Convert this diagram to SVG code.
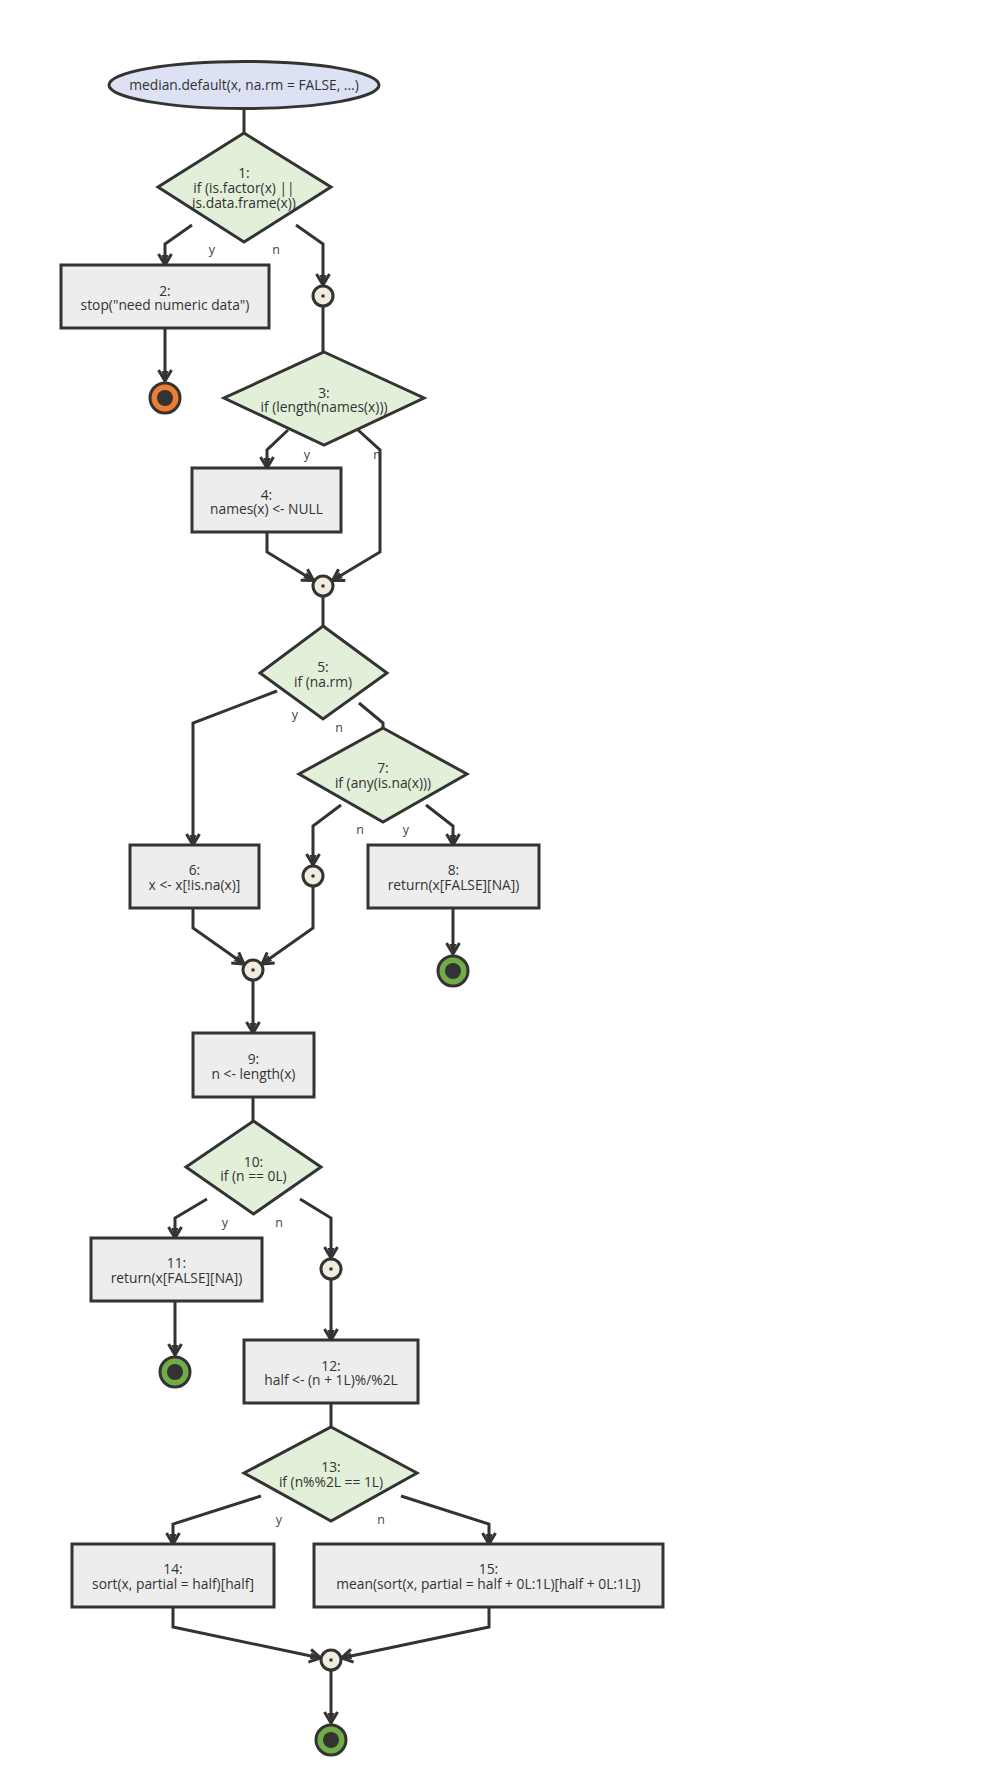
<svg xmlns="http://www.w3.org/2000/svg" width="1000" height="1788" viewBox="0 0 1000 1788">
<style>
text{font-family:"Open Sans","Noto Sans","DejaVu Sans",sans-serif;font-size:13.8px;fill:#333;text-anchor:middle}
.lbl{font-size:12.5px;fill:#444}
.box{fill:#ededed;stroke:#333;stroke-width:3}
.dia{fill:#e2efd9;stroke:#333;stroke-width:3;stroke-linejoin:miter}
.start{fill:#dce2f3;stroke:#333;stroke-width:3}
.jn{fill:#f1ecdd;stroke:#333;stroke-width:3}
.dot{fill:#333}
.endo{fill:#ed7d31;stroke:#333;stroke-width:3}
.endg{fill:#70ad47;stroke:#333;stroke-width:3}
.edge{fill:none;stroke:#333;stroke-width:3;stroke-linejoin:miter}
.arr{marker-end:url(#ah)}
</style>
<defs>
<marker id="ah" markerUnits="userSpaceOnUse" viewBox="-14 -9 16 18" refX="0" refY="0" markerWidth="16" markerHeight="18" orient="auto">
<path d="M-11,-6.5 L0,0 L-11,6.5" fill="none" stroke="#333" stroke-width="3"/>
<path d="M-10,-3.5 L0,0 L-10,3.5 Z" fill="#333"/>
</marker>
</defs>
<rect width="1000" height="1788" fill="#ffffff"/>
<g id="edge-labels">
<text class="lbl" x="212" y="254">y</text>
<text class="lbl" x="276" y="254">n</text>
<text class="lbl" x="307" y="459">y</text>
<text class="lbl" x="377" y="459">n</text>
<text class="lbl" x="295" y="719">y</text>
<text class="lbl" x="339" y="732">n</text>
<text class="lbl" x="360" y="834">n</text>
<text class="lbl" x="406" y="834">y</text>
<text class="lbl" x="225" y="1227">y</text>
<text class="lbl" x="279" y="1227">n</text>
<text class="lbl" x="279" y="1524">y</text>
<text class="lbl" x="381" y="1524">n</text>
</g>
<g id="connectors">
<path class="edge" d="M244,108 L244,133"/>
<path class="edge arr" d="M192,225 L165,244 L165,265"/>
<path class="edge arr" d="M296,225 L323,244 L323,285"/>
<path class="edge" d="M323,307 L323,352"/>
<path class="edge arr" d="M165,328 L165,381"/>
<path class="edge arr" d="M288,430 L267,450 L267,468"/>
<path class="edge arr" d="M358,430 L380,450 L380,552 L332.5,580.5"/>
<path class="edge arr" d="M267,532 L267,552 L313.5,580.5"/>
<path class="edge" d="M323,597 L323,626"/>
<path class="edge arr" d="M277,691 L193,723 L193,845"/>
<path class="edge" d="M359,703 L383,723 L383,728"/>
<path class="edge arr" d="M341,805 L313,826 L313,865"/>
<path class="edge arr" d="M426,805 L453,826 L453,845"/>
<path class="edge arr" d="M193,908 L193,928 L244,964"/>
<path class="edge arr" d="M313,887 L313,928 L262,964"/>
<path class="edge arr" d="M453,908 L453,954"/>
<path class="edge arr" d="M253,981 L253,1033"/>
<path class="edge" d="M253,1097 L253,1121"/>
<path class="edge arr" d="M207,1199 L175,1218 L175,1238"/>
<path class="edge arr" d="M300,1199 L331,1218 L331,1258"/>
<path class="edge arr" d="M175,1301 L175,1355"/>
<path class="edge arr" d="M331,1280 L331,1340"/>
<path class="edge" d="M331,1403 L331,1427"/>
<path class="edge arr" d="M261,1496 L173,1524 L173,1544"/>
<path class="edge arr" d="M401,1496 L489,1524 L489,1544"/>
<path class="edge arr" d="M173,1607 L173,1627 L320.5,1658"/>
<path class="edge arr" d="M489,1607 L489,1627 L341.5,1658"/>
<path class="edge arr" d="M331,1671 L331,1723"/>
</g>
<g id="n-start">
<ellipse class="start" cx="244" cy="85" rx="135" ry="23.5"/>
<text x="244" y="90">median.default(x, na.rm = FALSE, ...)</text>
</g>
<g id="n1">
<polygon class="dia" points="244,133 331,187 244,242 158,187"/>
<text x="244" y="178">1:</text>
<text x="244" y="193">if (is.factor(x) ||</text>
<text x="244" y="208">is.data.frame(x))</text>
</g>
<g id="n2">
<rect class="box" x="61" y="265" width="208" height="63"/>
<text x="165" y="296">2:</text>
<text x="165" y="310">stop("need numeric data")</text>
</g>
<g id="end2">
<circle class="endo" cx="165" cy="398" r="15"/>
<circle class="dot" cx="165" cy="398" r="8"/>
</g>
<g id="j1">
<circle class="jn" cx="323" cy="296" r="10"/>
<circle class="dot" cx="323" cy="296" r="1.8"/>
</g>
<g id="n3">
<polygon class="dia" points="324,352 424,398 324,445 224,398"/>
<text x="324" y="398">3:</text>
<text x="324" y="412">if (length(names(x)))</text>
</g>
<g id="n4">
<rect class="box" x="192" y="468" width="149" height="64"/>
<text x="266.5" y="500">4:</text>
<text x="266.5" y="514">names(x) &lt;- NULL</text>
</g>
<g id="j2">
<circle class="jn" cx="323" cy="586" r="10"/>
<circle class="dot" cx="323" cy="586" r="1.8"/>
</g>
<g id="n5">
<polygon class="dia" points="323,626 387,673 323,719 260,673"/>
<text x="323" y="672">5:</text>
<text x="323" y="687">if (na.rm)</text>
</g>
<g id="n6">
<rect class="box" x="130" y="845" width="129" height="63"/>
<text x="194.5" y="875">6:</text>
<text x="194.5" y="890">x &lt;- x[!is.na(x)]</text>
</g>
<g id="n7">
<polygon class="dia" points="383,728 467,774 383,822 299,774"/>
<text x="383" y="773">7:</text>
<text x="383" y="788">if (any(is.na(x)))</text>
</g>
<g id="j3">
<circle class="jn" cx="313" cy="876" r="10"/>
<circle class="dot" cx="313" cy="876" r="1.8"/>
</g>
<g id="n8">
<rect class="box" x="368" y="845" width="171" height="63"/>
<text x="453.5" y="875">8:</text>
<text x="453.5" y="890">return(x[FALSE][NA])</text>
</g>
<g id="end8">
<circle class="endg" cx="453" cy="971" r="15"/>
<circle class="dot" cx="453" cy="971" r="8"/>
</g>
<g id="j4">
<circle class="jn" cx="253" cy="970" r="10"/>
<circle class="dot" cx="253" cy="970" r="1.8"/>
</g>
<g id="n9">
<rect class="box" x="193" y="1033" width="121" height="64"/>
<text x="253.5" y="1064">9:</text>
<text x="253.5" y="1079">n &lt;- length(x)</text>
</g>
<g id="n10">
<polygon class="dia" points="253.5,1121 321,1167 253.5,1214 186,1167"/>
<text x="253.5" y="1167">10:</text>
<text x="253.5" y="1181">if (n == 0L)</text>
</g>
<g id="n11">
<rect class="box" x="91" y="1238" width="171" height="63"/>
<text x="176.5" y="1268">11:</text>
<text x="176.5" y="1283">return(x[FALSE][NA])</text>
</g>
<g id="end11">
<circle class="endg" cx="175" cy="1372" r="15"/>
<circle class="dot" cx="175" cy="1372" r="8"/>
</g>
<g id="j5">
<circle class="jn" cx="331" cy="1269" r="10"/>
<circle class="dot" cx="331" cy="1269" r="1.8"/>
</g>
<g id="n12">
<rect class="box" x="244" y="1340" width="174" height="63"/>
<text x="331" y="1371">12:</text>
<text x="331" y="1385">half &lt;- (n + 1L)%/%2L</text>
</g>
<g id="n13">
<polygon class="dia" points="331,1427 417,1473 331,1521 244,1473"/>
<text x="331" y="1472">13:</text>
<text x="331" y="1487">if (n%%2L == 1L)</text>
</g>
<g id="n14">
<rect class="box" x="72" y="1544" width="202" height="63"/>
<text x="173" y="1574">14:</text>
<text x="173" y="1589">sort(x, partial = half)[half]</text>
</g>
<g id="n15">
<rect class="box" x="314" y="1544" width="349" height="63"/>
<text x="488.5" y="1574">15:</text>
<text x="488.5" y="1589">mean(sort(x, partial = half + 0L:1L)[half + 0L:1L])</text>
</g>
<g id="j6">
<circle class="jn" cx="331" cy="1660" r="10"/>
<circle class="dot" cx="331" cy="1660" r="1.8"/>
</g>
<g id="end15">
<circle class="endg" cx="331" cy="1740" r="15"/>
<circle class="dot" cx="331" cy="1740" r="8"/>
</g>
</svg>
